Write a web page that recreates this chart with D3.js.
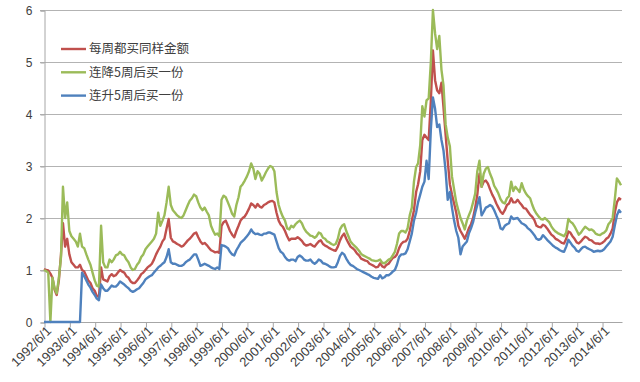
<!DOCTYPE html>
<html>
<head>
<meta charset="utf-8">
<script src="https://cdn.jsdelivr.net/npm/d3@7"></script>
<style>
	body { margin: 0; background: #fff; }
	svg { display: block; font-family: Lato, "Noto Sans", "Noto Sans CJK SC", sans-serif; }
</style>
</head>
<body>
<svg width="640" height="382"></svg>
<script>
// monthly readings, 1992/6 .. 2015/3
const seriesNames = ["每周都买同样金额", "连降5周后买一份", "连升5周后买一份"];
const seriesColors = ["#C0504D", "#9BBB59", "#4F81BD"];

const everyWeek = [
	1.02, 1.0, 0.99, 0.93, 0.85, 0.62, 0.52, 0.8, 1.3, 1.9,
	1.45, 1.6, 1.3, 1.15, 1.1, 1.05, 1.05, 1.1, 1.0, 0.97,
	0.88, 0.8, 0.75, 0.65, 0.6, 0.5, 0.48, 1.05, 0.82, 0.8,
	0.78, 0.88, 0.92, 0.88, 0.9, 0.95, 1.0, 0.97, 0.95, 0.88,
	0.85, 0.78, 0.75, 0.75, 0.8, 0.85, 0.92, 0.95, 1.0, 1.05,
	1.08, 1.12, 1.2, 1.3, 1.38, 1.45, 1.55, 1.6, 1.8, 1.98,
	1.62, 1.55, 1.53, 1.5, 1.48, 1.45, 1.47, 1.52, 1.57, 1.6,
	1.65, 1.7, 1.72, 1.63, 1.55, 1.5, 1.52, 1.48, 1.43, 1.38,
	1.36, 1.34, 1.35, 1.33, 1.85, 1.92, 1.95, 1.85, 1.75, 1.68,
	1.63, 1.75, 1.85, 1.95, 2.0, 2.03, 2.1, 2.18, 2.28, 2.25,
	2.2, 2.27, 2.22, 2.2, 2.25, 2.27, 2.3, 2.32, 2.33, 2.3,
	2.1, 1.95, 1.87, 1.83, 1.75, 1.65, 1.57, 1.6, 1.6, 1.6,
	1.63, 1.6, 1.56, 1.5, 1.47, 1.48, 1.5, 1.47, 1.45, 1.5,
	1.55, 1.57, 1.5, 1.47, 1.45, 1.42, 1.4, 1.38, 1.37, 1.45,
	1.57, 1.65, 1.7, 1.6, 1.52, 1.45, 1.42, 1.38, 1.32, 1.28,
	1.22, 1.2, 1.18, 1.17, 1.12, 1.1, 1.08, 1.05, 1.06, 1.13,
	1.07, 1.05, 1.1, 1.12, 1.18, 1.23, 1.25, 1.3, 1.42, 1.5,
	1.54, 1.55, 1.6, 1.75, 1.95, 2.15, 2.5, 2.65, 2.9, 3.5,
	3.6, 3.55, 3.5, 4.25, 5.22, 4.65, 4.45, 4.4, 4.6, 4.13,
	3.6, 3.1, 2.65, 2.45, 2.28, 2.1, 1.85, 1.75, 1.68, 1.6,
	1.7, 1.8, 1.88, 2.0, 2.2, 2.45, 2.85, 2.6, 2.7, 2.72,
	2.66, 2.55, 2.45, 2.38, 2.28, 2.2, 2.12, 2.08, 2.15, 2.25,
	2.28, 2.38, 2.3, 2.3, 2.35, 2.3, 2.25, 2.19, 2.18, 2.12,
	2.06, 2.02, 1.96, 1.85, 1.83, 1.82, 1.87, 1.85, 1.8, 1.74,
	1.68, 1.65, 1.6, 1.58, 1.55, 1.52, 1.51, 1.6, 1.74, 1.72,
	1.65, 1.6, 1.53, 1.51, 1.55, 1.6, 1.64, 1.62, 1.58, 1.57,
	1.53, 1.51, 1.51, 1.5, 1.52, 1.55, 1.6, 1.63, 1.7, 1.8,
	2.1, 2.3, 2.38, 2.35
];

const afterFall = [
	1.0, 0.98, 0.95, 0, 0.85, 0.65, 0.55, 0.85, 1.25, 2.6,
	2.0, 2.3, 1.75, 1.65, 1.6, 1.55, 1.45, 1.7, 1.45, 1.42,
	1.3, 1.2, 1.1, 0.95, 0.8, 0.7, 0.68, 1.85, 1.15, 1.05,
	1.05, 1.2, 1.15, 1.2, 1.28, 1.3, 1.35, 1.3, 1.28, 1.2,
	1.15, 1.05, 1.0, 1.02, 1.1, 1.15, 1.25, 1.3, 1.4, 1.45,
	1.5, 1.55, 1.6, 1.7, 2.1, 1.85, 1.95, 2.05, 2.3, 2.6,
	2.25, 2.15, 2.1, 2.05, 2.02, 2.0, 2.05, 2.15, 2.25, 2.33,
	2.38, 2.45, 2.42, 2.3, 2.2, 2.15, 2.2, 2.12, 2.05, 1.85,
	1.75, 1.68, 1.7, 1.65, 2.35, 2.43, 2.4, 2.3, 2.2, 2.08,
	2.03, 2.25, 2.4, 2.6, 2.65, 2.72, 2.8, 2.9, 3.05, 2.95,
	2.75, 2.9, 2.85, 2.72, 2.8, 2.88, 2.95, 3.0, 2.98, 2.9,
	2.5, 2.25, 2.12, 2.02, 1.95, 1.8, 1.78, 1.85, 1.82, 1.88,
	1.92, 1.95, 1.9, 1.8, 1.74, 1.7, 1.66, 1.65, 1.62, 1.65,
	1.72, 1.7, 1.62, 1.6, 1.55, 1.53, 1.5, 1.48, 1.5, 1.6,
	1.78, 1.85, 1.88, 1.75, 1.65, 1.55, 1.5, 1.46, 1.42, 1.37,
	1.31, 1.28, 1.26, 1.24, 1.22, 1.19, 1.18, 1.17, 1.18, 1.2,
	1.14, 1.13, 1.16, 1.2, 1.22, 1.28, 1.35, 1.5, 1.7, 1.75,
	1.75, 1.72, 1.8, 2.05, 2.2, 2.7, 2.98, 3.05, 3.4, 4.15,
	3.95, 4.26, 4.3, 5.0, 6.0, 5.55, 5.25, 5.5, 4.85, 4.55,
	3.8, 3.55, 3.38, 2.8, 2.55, 2.3, 2.15, 2.0, 1.9, 1.78,
	1.95, 2.05, 2.15, 2.3, 2.47, 2.9, 3.1, 2.6, 2.85, 2.95,
	2.98, 2.85, 2.75, 2.62, 2.55, 2.47, 2.36, 2.3, 2.28, 2.38,
	2.42, 2.7, 2.52, 2.6, 2.55, 2.5, 2.67, 2.55, 2.47, 2.42,
	2.38, 2.25, 2.15, 2.08, 2.03, 1.98, 1.97, 2.0, 1.96, 1.92,
	1.84, 1.78, 1.74, 1.71, 1.69, 1.67, 1.65, 1.72, 1.98, 1.93,
	1.9, 1.84, 1.76, 1.68, 1.72, 1.78, 1.83, 1.8, 1.77, 1.78,
	1.75, 1.7, 1.68, 1.67, 1.7, 1.72, 1.76, 1.88, 1.93, 2.0,
	2.35, 2.76, 2.7, 2.63
];

const afterRise = [
	0, 0, 0, 0, 0, 0, 0, 0, 0, 0,
	0, 0, 0, 0, 0, 0, 0, 0, 0.95, 0.88,
	0.8, 0.72, 0.66, 0.58, 0.52, 0.45, 0.42, 0.72, 0.65, 0.6,
	0.6, 0.65, 0.7, 0.68, 0.68, 0.72, 0.78, 0.75, 0.72, 0.68,
	0.65, 0.6, 0.58, 0.6, 0.63, 0.65, 0.7, 0.75, 0.82, 0.85,
	0.88, 0.9, 0.95, 1.0, 1.05, 1.08, 1.12, 1.15, 1.25, 1.4,
	1.15, 1.12, 1.12, 1.1, 1.08, 1.08, 1.1, 1.15, 1.18, 1.2,
	1.25, 1.3, 1.3, 1.2, 1.08, 1.1, 1.12, 1.1, 1.08, 1.05,
	1.03, 1.02, 1.05, 1.02, 1.48, 1.47, 1.45, 1.42, 1.35, 1.3,
	1.28, 1.38, 1.45, 1.52, 1.56, 1.6, 1.65, 1.7, 1.78, 1.72,
	1.69, 1.7, 1.68, 1.67, 1.7, 1.7, 1.72, 1.72, 1.7, 1.68,
	1.55, 1.42, 1.35, 1.32, 1.25, 1.2, 1.18, 1.2, 1.2, 1.17,
	1.25, 1.28, 1.25, 1.2, 1.18, 1.18, 1.2, 1.15, 1.12, 1.15,
	1.2, 1.18, 1.13, 1.12, 1.1, 1.07, 1.05, 1.05, 1.06, 1.15,
	1.27, 1.33, 1.3, 1.22, 1.15, 1.1, 1.08, 1.05, 1.02, 1.0,
	0.98, 0.96, 0.94, 0.92, 0.9, 0.87, 0.85, 0.84, 0.83, 0.9,
	0.84, 0.86, 0.9, 0.9, 0.93, 0.97, 1.0, 1.1, 1.25, 1.3,
	1.3, 1.32, 1.4, 1.55, 1.7, 1.95, 2.1, 2.3, 2.45, 2.6,
	2.7, 3.1, 2.75, 3.7, 4.32, 4.1, 3.75, 3.8, 3.5, 3.3,
	2.9, 2.35, 2.5, 2.2, 1.95, 1.75, 1.62, 1.3, 1.45, 1.5,
	1.55, 1.7, 1.8, 1.92, 2.1, 2.25, 2.4, 2.05, 2.12, 2.2,
	2.22, 2.25, 2.22, 2.15, 2.05, 1.96, 1.8, 1.78, 1.85, 1.88,
	1.9, 2.03, 1.98, 1.99, 2.0, 1.95, 1.9, 1.88, 1.85, 1.8,
	1.77, 1.72, 1.67, 1.6, 1.58, 1.6, 1.67, 1.63, 1.58, 1.54,
	1.5, 1.46, 1.43, 1.41, 1.38, 1.36, 1.35, 1.45, 1.58, 1.53,
	1.47, 1.43, 1.37, 1.35, 1.4, 1.44, 1.45, 1.42, 1.4, 1.38,
	1.35, 1.36, 1.37, 1.36, 1.37, 1.4, 1.45, 1.5, 1.55, 1.64,
	1.85, 2.05, 2.15, 2.1
];

const yTicks = [0, 1, 2, 3, 4, 5, 6];
const tickYears = d3.range(1992, 2015);

const months = d3.timeMonth.range(new Date(1992, 5, 1), new Date(2015, 3, 1));
const allSeries = [everyWeek, afterFall, afterRise];

const svg = d3.select("svg");

const x = d3.scaleTime()
	.domain([months[0], months[months.length - 1]])
	.range([44, 621]);

const y = d3.scaleLinear()
	.domain([0, 6])
	.range([322, 10]);

// grid
svg.append("g")
	.selectAll("line")
	.data(yTicks.slice(1))
	.join("line")
	.attr("x1", 40)
	.attr("x2", 622)
	.attr("y1", d => y(d) + 0.5)
	.attr("y2", d => y(d) + 0.5)
	.attr("stroke", "#b3b3b3");

const yAxis = svg.append("g")
	.attr("transform", "translate(44.5,0.5)")
	.call(d3.axisLeft(y).tickValues(yTicks).tickSize(4).tickPadding(8).tickFormat(d3.format("d")));

const xAxis = svg.append("g")
	.attr("transform", "translate(0.5,322.5)")
	.call(d3.axisBottom(x)
		.tickValues(tickYears.map(yr => new Date(yr, 5, 1)))
		.tickSize(5)
		.tickSizeOuter(0)
		.tickFormat(d3.timeFormat("%Y/%-m/%-d")));

xAxis.select(".domain").attr("d", "M43.5,0H622");

for (const ax of [xAxis, yAxis]) {
	ax.selectAll(".domain, line").attr("stroke", "#a6a6a6");
	ax.selectAll("text")
		.attr("fill", "#404040")
		.style("font-size", "12px");
}

xAxis.selectAll("text")
	.style("font-size", "13px")
	.attr("text-anchor", "end")
	.attr("transform", "translate(4,6) rotate(-45)")
	.attr("dy", "0.35em")
	.attr("y", 0)
	.attr("x", 0);

const line = d3.line()
	.x((d, i) => x(months[i]))
	.y(d => y(d));

svg.append("g")
	.selectAll("path")
	.data(allSeries)
	.join("path")
	.attr("d", line)
	.attr("fill", "none")
	.attr("stroke", (d, i) => seriesColors[i])
	.attr("stroke-width", 2.4)
	.attr("stroke-linejoin", "round");

// legend
const legend = svg.append("g")
	.selectAll("g")
	.data(seriesNames)
	.join("g")
	.attr("transform", (d, i) => `translate(61,${49 + i * 23.3})`);

legend.append("line")
	.attr("x2", 25)
	.attr("stroke", (d, i) => seriesColors[i])
	.attr("stroke-width", 2.4);

legend.append("text")
	.attr("x", 28)
	.attr("dy", "0.35em")
	.attr("fill", "#404040")
	.style("font-size", "12.5px")
	.style("font-family", "'Noto Sans CJK SC', sans-serif")
	.text(d => d);
</script>
</body>
</html>
